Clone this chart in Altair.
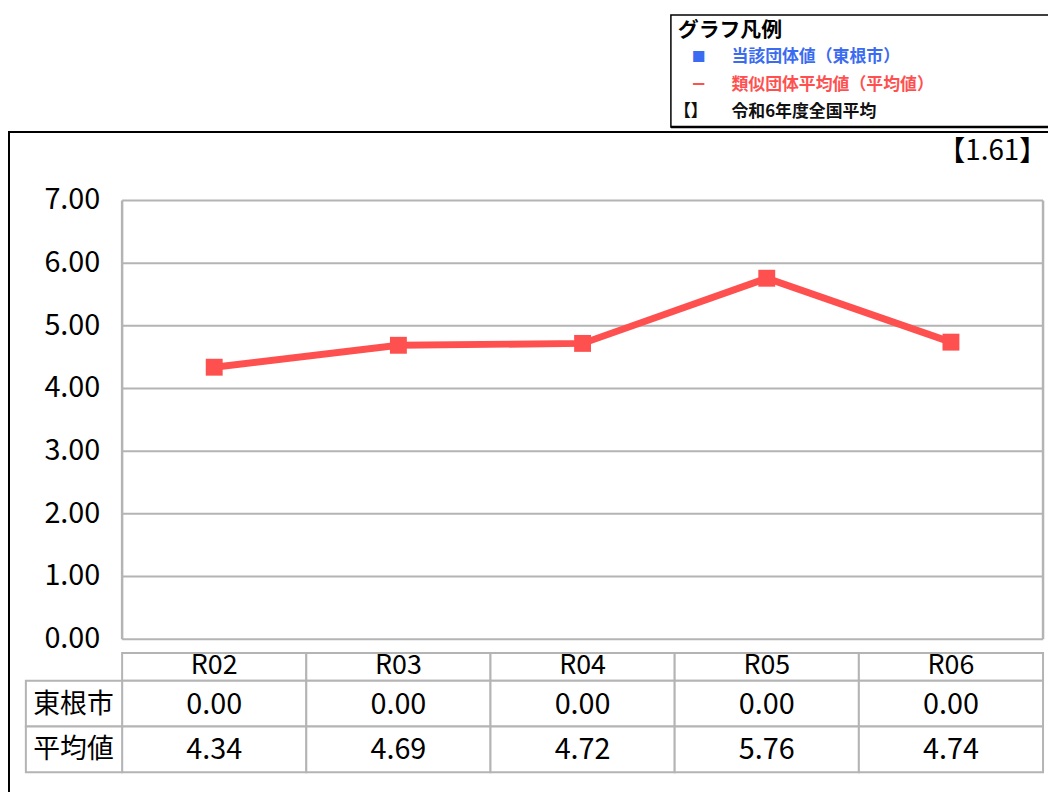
import altair as alt
import pandas as pd

# ---------------- data ----------------
years = ["R02", "R03", "R04", "R05", "R06"]
city_values = [0.00, 0.00, 0.00, 0.00, 0.00]
avg_values = [4.34, 4.69, 4.72, 5.76, 4.74]
national_avg = 1.61
y_ticks = [0, 1, 2, 3, 4, 5, 6, 7]
row_labels = ["東根市", "平均値"]
legend_title = "グラフ凡例"
legend_texts = ["当該団体値（東根市）", "類似団体平均値（平均値）", "令和6年度全国平均"]
legend_symbols = ["■", "ー", "【】"]
legend_colors = ["#3A6BF0", "#FF5050", "#111111"]

NUM_FONT = "Noto Sans CJK JP"
JP_FONT = "Noto Sans CJK JP"
RED = "#FF5050"
GRID = "#B4B4B4"

df = pd.DataFrame({"year": years, "city": city_values, "avg": avg_values})
df_ticks = pd.DataFrame({"tick": y_ticks, "label": [f"{t:.2f}" for t in y_ticks]})
one = alt.Data(values=[{"a": 1}])

xs = alt.Scale(type="band", domain=years, range=[115, 1043], paddingInner=0, paddingOuter=0)
ys = alt.Scale(domain=[0, 7], range=[633, 191], nice=False, zero=False)
X = alt.X("year:N", scale=xs, axis=None)

layers = []

# outer frame
layers.append(alt.Chart(one).mark_rect(fill="white", stroke="black", strokeWidth=2).encode(
    x=alt.value(1), x2=alt.value(1070), y=alt.value(122), y2=alt.value(800)))

# legend box
layers.append(alt.Chart(one).mark_rect(fill="white", stroke="black", strokeWidth=1.5).encode(
    x=alt.value(668), x2=alt.value(1070), y=alt.value(4), y2=alt.value(117)))
layers.append(alt.Chart(one).mark_rule(color="black", strokeWidth=2.5).encode(
    x=alt.value(668), x2=alt.value(1070), y=alt.value(117)))

# legend text
layers.append(alt.Chart(one).mark_text(font=JP_FONT, fontSize=21, fontWeight="bold", align="left",
                                       baseline="middle", color="black").encode(
    x=alt.value(675), y=alt.value(20), text=alt.value(legend_title)))
leg_y = [46, 75, 102]
for i in range(3):
    layers.append(alt.Chart(one).mark_text(font=JP_FONT, fontSize=17, fontWeight="bold", align="left",
                                           baseline="middle", color=legend_colors[i]).encode(
        x=alt.value(729), y=alt.value(leg_y[i]), text=alt.value(legend_texts[i])))
    layers.append(alt.Chart(one).mark_text(font=JP_FONT, fontSize=14 if i < 2 else 17, fontWeight="bold",
                                           align="center",
                                           baseline="middle", color=legend_colors[i]).encode(
        x=alt.value(696 if i < 2 else 688), y=alt.value(leg_y[i]), text=alt.value(legend_symbols[i])))

# national average label
layers.append(alt.Chart(one).mark_text(font=NUM_FONT, fontSize=28, align="right", baseline="middle",
                                       color="black").encode(
    x=alt.value(1047), y=alt.value(142), text=alt.value(f"【{national_avg:.2f}】")))

# gridlines
layers.append(alt.Chart(df_ticks).mark_rule(color=GRID, strokeWidth=2).encode(
    y=alt.Y("tick:Q", scale=ys, axis=None), x=alt.value(115), x2=alt.value(1043)))
# plot frame sides
for xv in (115, 1043):
    layers.append(alt.Chart(one).mark_rule(color=GRID, strokeWidth=2.5).encode(
        x=alt.value(xv), y=alt.value(191), y2=alt.value(633)))

# y tick labels
layers.append(alt.Chart(df_ticks).mark_text(font=NUM_FONT, fontSize=29, align="right", baseline="middle",
                                            color="black").encode(
    y=alt.Y("tick:Q", scale=ys, axis=None), x=alt.value(93), text="label:N"))

# table cells
for (y0, y1) in [(647, 675), (675, 721), (721, 767)]:
    layers.append(alt.Chart(df).mark_rect(fill="white", stroke=GRID, strokeWidth=2).encode(
        x=X, y=alt.value(y0), y2=alt.value(y1)))
for (y0, y1) in [(675, 721), (721, 767)]:
    layers.append(alt.Chart(one).mark_rect(fill="white", stroke=GRID, strokeWidth=2).encode(
        x=alt.value(18), x2=alt.value(115), y=alt.value(y0), y2=alt.value(y1)))

# table texts
layers.append(alt.Chart(df).mark_text(font=NUM_FONT, fontSize=27, baseline="middle", color="black").encode(
    x=X, y=alt.value(660), text="year:N"))
layers.append(alt.Chart(df).mark_text(font=NUM_FONT, fontSize=29, baseline="middle", color="black").encode(
    x=X, y=alt.value(699), text=alt.Text("city:Q", format=".2f")))
layers.append(alt.Chart(df).mark_text(font=NUM_FONT, fontSize=29, baseline="middle", color="black").encode(
    x=X, y=alt.value(745), text=alt.Text("avg:Q", format=".2f")))
row_y = [699, 745]
for i in range(2):
    layers.append(alt.Chart(one).mark_text(font=JP_FONT, fontSize=27, baseline="middle", color="black").encode(
        x=alt.value(66), y=alt.value(row_y[i]), text=alt.value(row_labels[i])))

# series line
layers.append(alt.Chart(df).mark_line(color=RED, strokeWidth=7).encode(
    x=X, y=alt.Y("avg:Q", scale=ys, axis=None)))
layers.append(alt.Chart(df).mark_point(shape="square", filled=True, size=290, color=RED, opacity=1).encode(
    x=X, y=alt.Y("avg:Q", scale=ys, axis=None)))

chart = alt.layer(*layers).properties(
    width=1048, height=784, autosize=alt.AutoSizeParams(type="none"), padding=0
).configure_view(strokeWidth=0)

chart.save("out.html", embed_options={"renderer": "svg", "actions": False})
